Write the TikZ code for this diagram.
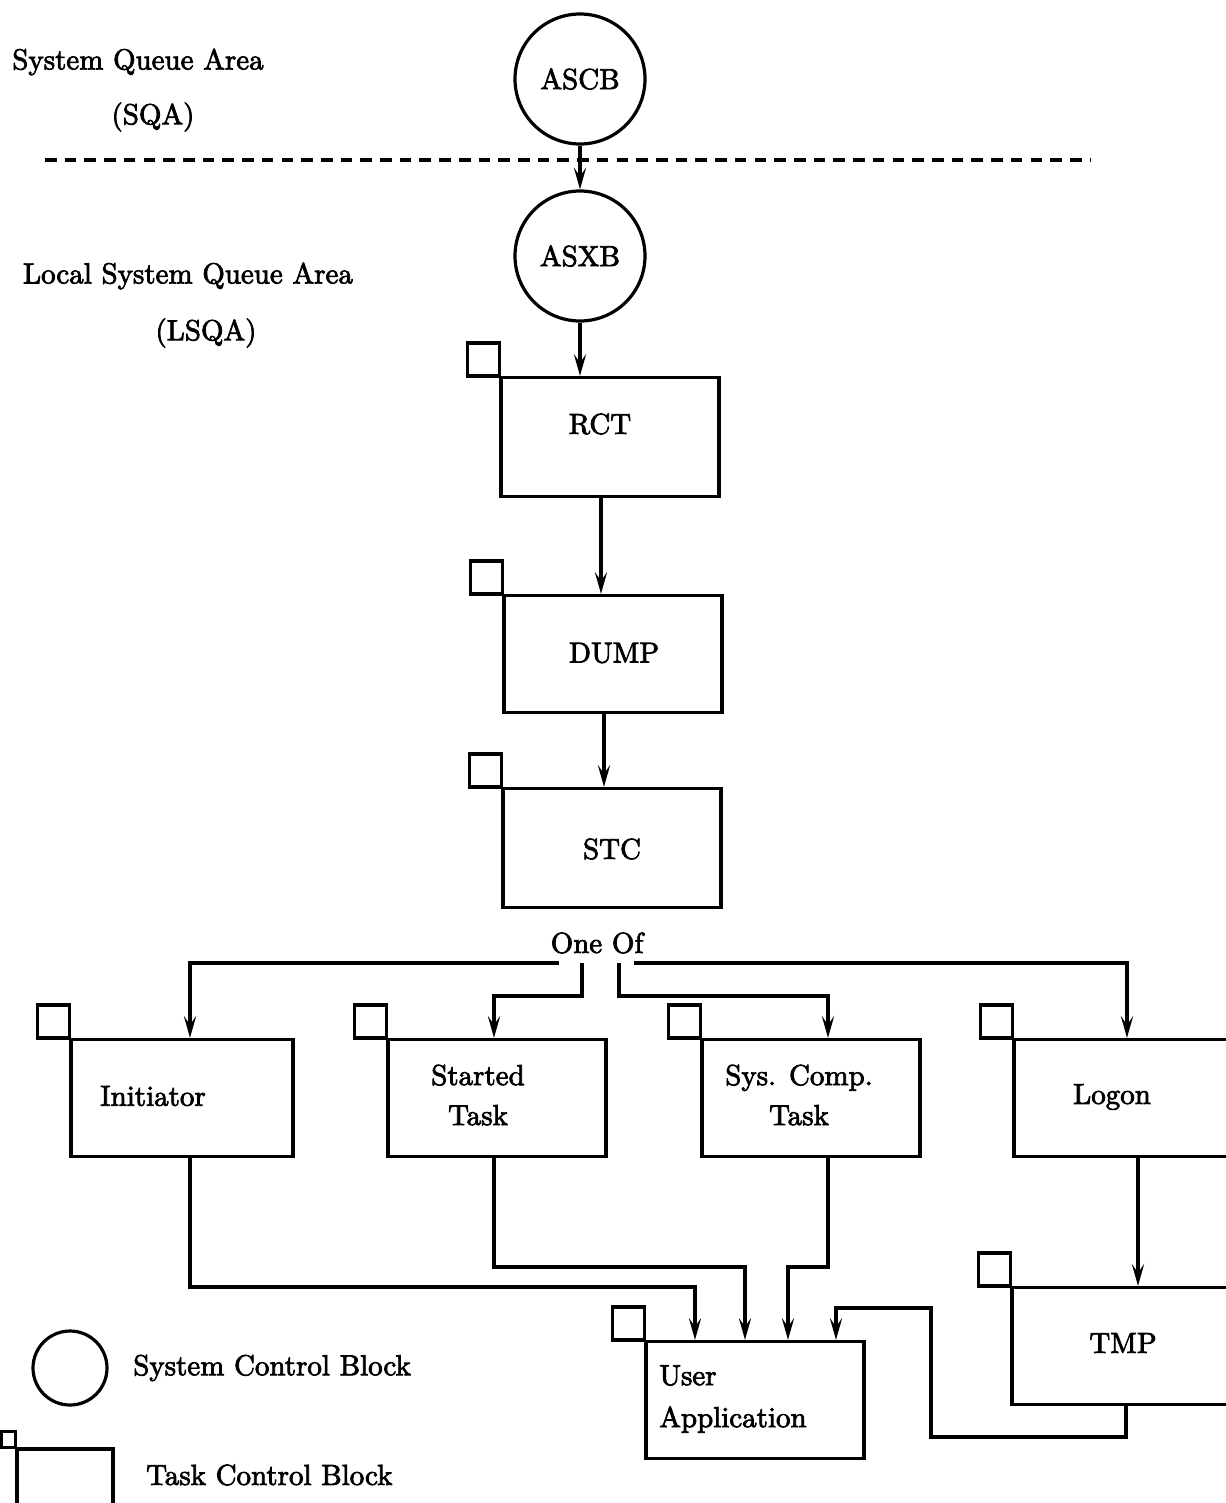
\documentclass[tikz,border=0pt]{standalone}
\usepackage{fontspec}
\setmainfont{lmroman10-regular.otf}[FakeBold=2.6]
\usetikzlibrary{arrows.meta}
\def\pxu{0.345pt}
\tikzset{
  scb/.style={draw, circle, minimum size=130*\pxu, inner sep=0pt},
  tcb/.style={draw, rectangle, minimum width=218*\pxu, minimum height=117*\pxu, inner sep=0pt},
  arr/.style={-{Stealth[length=7.5pt,width=4.2pt,inset=3pt]}},
}
\begin{document}
\begin{tikzpicture}[x=\pxu, y=-\pxu, line width=1.1pt]
\useasboundingbox (0,0) rectangle (1225,1503);
% areas
\node (sqa) at (138,62) {System Queue Area};
\node (sqas) at (153,117) {(SQA)};
\node (lsqa) at (188,276) {Local System Queue Area};
\node (lsqas) at (206,333) {(LSQA)};
\draw[dash pattern=on 4pt off 2.8pt] (45,160) -- (1090,160);
% system control blocks
\node[scb] (ascb) at (580,79) {ASCB};
\node[scb] (asxb) at (580,256) {ASXB};
% task control blocks
\node[tcb, minimum height=119*\pxu] (rct) at (610,437) {};
\node[tcb] (dump) at (613,654) {};
\node[tcb, minimum height=119*\pxu] (stc) at (612,848) {};
\node[tcb, minimum width=222*\pxu] (init) at (182,1098) {};
\node[tcb] (started) at (497,1098) {};
\node[tcb] (syscomp) at (811,1098) {};
\node[tcb] (logon) at (1123,1098) {};
\node[tcb] (tmp) at (1121,1346) {};
\node[tcb] (user) at (755,1400) {};
\foreach \b in {rct,dump,stc,init,started,syscomp,logon,tmp,user}
  \draw (\b.north west) rectangle ++(-32,-33);
\node (rctt) at (600,424) {RCT};
\node (dumpt) at (614,653) {DUMP};
\node (stct) at (612,849) {STC};
\node (initt) at (153,1096) {Initiator};
\node[align=center] (startedt) at (478,1095) {Started\\[1.8pt]Task};
\node[align=center] (syscompt) at (799,1095) {Sys. Comp.\\[1.8pt]Task};
\node (logont) at (1112,1097) {Logon};
\node (tmpt) at (1123,1343) {TMP};
\node[anchor=west, align=left] (usert) at (648,1399) {User\\[2.5pt]Application};
% chain
\draw[arr] (ascb) -- (asxb);
\draw[arr] (asxb.south) -- (asxb.south |- rct.north);
\draw[arr] (rct.south -| 601,0) -- (dump.north -| 601,0);
\draw[arr] (dump.south -| 604,0) -- (stc.north -| 604,0);
\node (oneof) at (597,943) {One Of};
\coordinate (b1) at (559,963);
\coordinate (b2) at (582,963);
\coordinate (b3) at (619,963);
\coordinate (b4) at (634,963);
\draw[arr] (b1) -| (190,0 |- init.north);
\draw[arr] (b2) -- ++(0,33) -| (494,0 |- started.north);
\draw[arr] (b3) -- ++(0,33) -| (828,0 |- syscomp.north);
\draw[arr] (b4) -| (1127,0 |- logon.north);
\draw[arr] (init.south -| 190,0) -- (190,1287) -| (695,0 |- user.north);
\draw[arr] (started.south -| 494,0) -- (494,1267) -| (745,0 |- user.north);
\draw[arr] (syscomp.south -| 828,0) -- (828,1267) -| (788,0 |- user.north);
\draw[arr] (logon.south -| 1138,0) -- (tmp.north -| 1138,0);
\draw[arr] (tmp.south -| 1126,0) -- (1126,1437) -| (931,1308) -| (836,0 |- user.north);
% legend
\node[draw, circle, minimum size=74*\pxu, inner sep=0pt] (legc) at (70,1368) {};
\node[anchor=west] (legct) at (122,1368) {System Control Block};
\node[draw, rectangle, minimum width=96*\pxu, minimum height=62*\pxu, inner sep=0pt] (legt) at (65,1480) {};
\draw (legt.north west) rectangle ++(-14,-16);
\node[anchor=west] (legtt) at (135,1475) {Task Control Block};
\end{tikzpicture}
\end{document}
